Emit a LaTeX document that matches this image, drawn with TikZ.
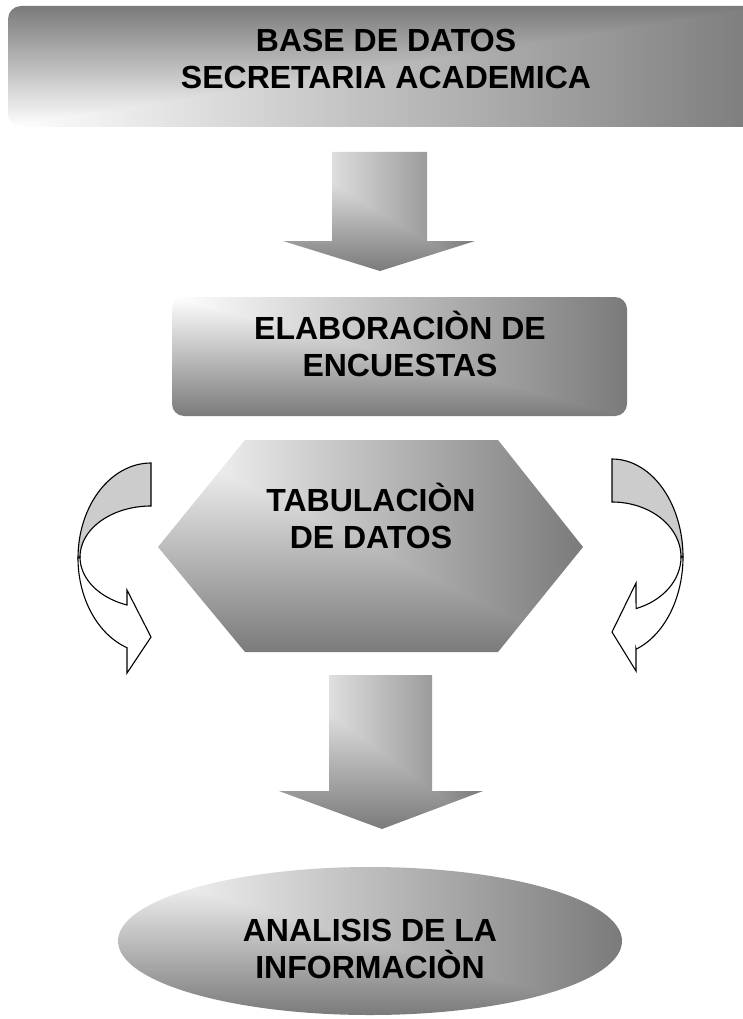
\documentclass[tikz,border=0pt]{standalone}
\usepackage{fontspec}
\setmainfont{Liberation Sans}
\pgfdeclarefunctionalshading{cornerTL}{\pgfpointorigin}{\pgfpoint{100bp}{100bp}}{}{
  75 exch sub 50 div
  exch 25 sub 50 div
  2 copy lt {exch} if pop
  dup 0 lt {pop 0} if
  dup 1 gt {pop 1} if
  0.52 mul 1 exch sub
  dup dup
}
\pgfdeclarefunctionalshading{cornerBL}{\pgfpointorigin}{\pgfpoint{100bp}{100bp}}{}{
  25 sub 50 div
  exch 25 sub 50 div
  2 copy lt {exch} if pop
  dup 0 lt {pop 0} if
  dup 1 gt {pop 1} if
  0.52 mul 1 exch sub
  dup dup
}
\tikzset{
  lbl/.style={font=\fontsize{32}{37}\selectfont\bfseries, align=center,
    text height=30pt, text depth=10pt, inner sep=0pt, text=black},
  grad/.style={shading=cornerTL},
  gradflip/.style={shading=cornerBL},
  curveback/.style={draw=black, fill=black!20, line width=1.1pt, line join=miter},
  curvefront/.style={draw=black, fill=white, line width=1.1pt, line join=miter},
}
\begin{document}
\begin{tikzpicture}[x=1pt, y=-1pt]
  \useasboundingbox (0,0) rectangle (743,1019);
  \clip (0,0) rectangle (743,1019);
  \fill[white] (0,0) rectangle (743,1019);

  % top box
  \shade[gradflip, rounded corners=13pt] (8,6) rectangle (770,127);
  % first down arrow
  \shade[grad] (332,152) -- (427,152) -- (427,241) -- (475,241) -- (380,271)
     -- (283,241) -- (332,241) -- cycle;
  % elaboracion box
  \shade[grad, rounded corners=12pt] (172,297) rectangle (627,416);
  % hexagon
  \shade[grad] (158,547) -- (245,440) -- (498,440) -- (583,547) -- (498,652)
     -- (245,652) -- cycle;
  % second down arrow
  \shade[grad] (329,675) -- (432,675) -- (432,791) -- (483,791) -- (382,829)
     -- (279,791) -- (329,791) -- cycle;
  % ellipse
  \shade[grad] (370,941) ellipse [x radius=252pt, y radius=74pt];

  % left curved arrow
  \filldraw[curveback]
    plot[domain=0:90, samples=40] ({151+73*cos(270-\x)},{558+95*sin(270-\x)})
    -- plot[domain=180:270, samples=40] ({151+71*cos(\x)},{557+51*sin(\x)})
    -- cycle;
  \filldraw[curvefront]
    plot[domain=0:70.2, samples=40] ({151+71*cos(180-\x)},{557+51*sin(180-\x)})
    -- (127,590) -- (151,637) -- (127,673) -- (127,648)
    -- plot[domain=109.2:180, samples=40] ({151+73*cos(\x)},{558+95*sin(\x)})
    -- cycle;

  % right curved arrow
  \filldraw[curveback]
    plot[domain=270:360, samples=40] ({612+71*cos(\x)},{557+98*sin(\x)})
    -- plot[domain=0:90, samples=40] ({612+69*cos(-\x)},{557+55*sin(-\x)})
    -- cycle;
  \filldraw[curvefront]
    plot[domain=0:69.6, samples=40] ({612+69*cos(\x)},{557+55*sin(\x)})
    -- (636,583) -- (612,632) -- (636,671) -- (636,649)
    -- plot[domain=0:70.2, samples=40] ({612+71*cos(70.2-\x)},{557+98*sin(70.2-\x)})
    -- cycle;

  % texts
  \node[lbl] (base) at (386,79) {BASE DE DATOS\\SECRETARIA ACADEMICA};
  \node[lbl] (elab) at (400,366) {ELABORACIÒN DE\\ENCUESTAS};
  \node[lbl] (tab) at (371,538) {TABULACIÒN\\DE DATOS};
  \node[lbl] (anal) at (370,968) {ANALISIS DE LA\\INFORMACIÒN};
\end{tikzpicture}
\end{document}
